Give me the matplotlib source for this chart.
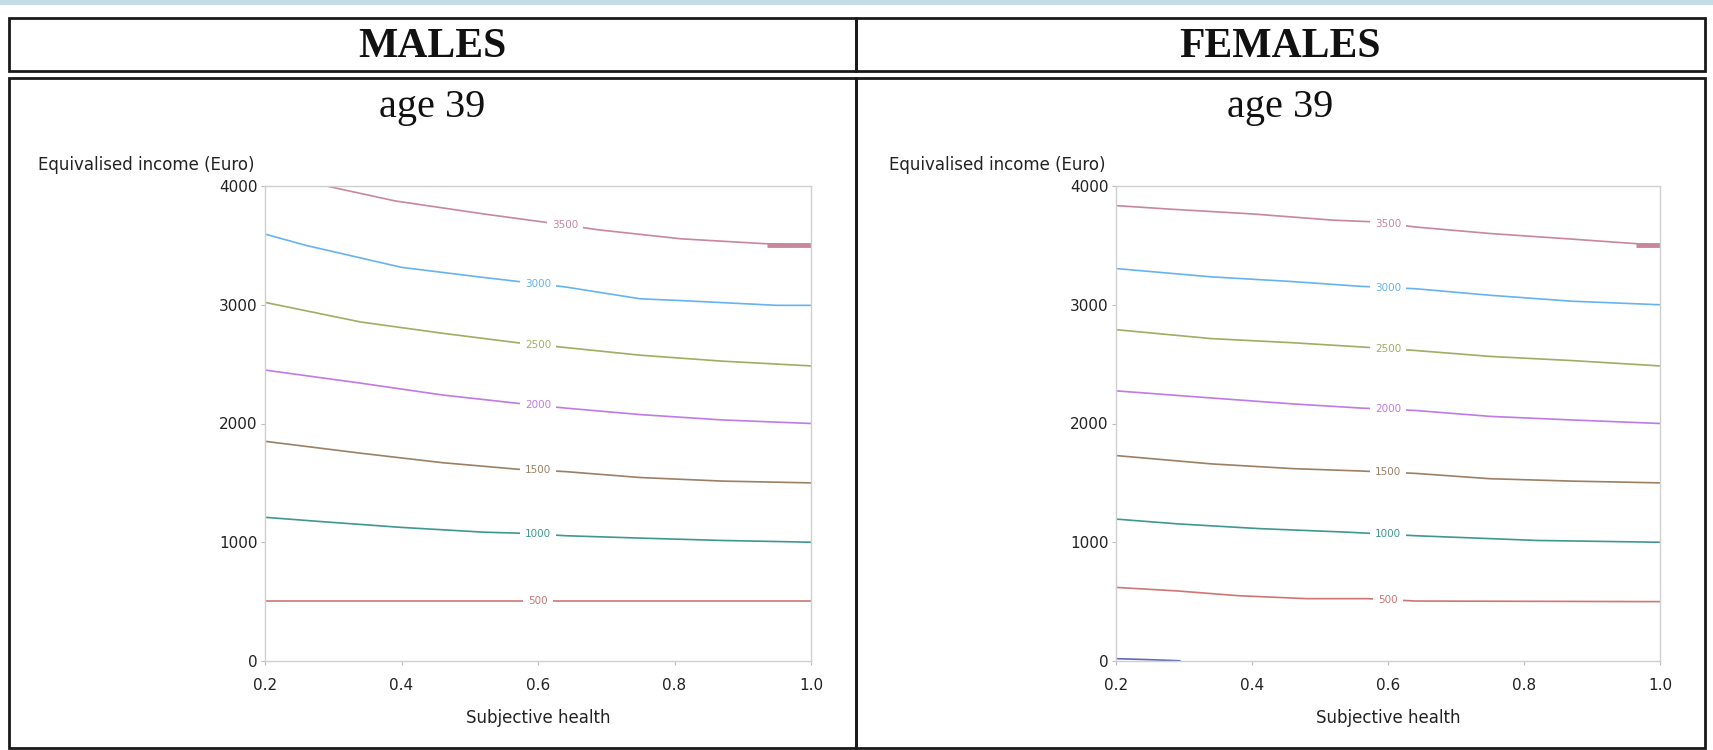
import numpy as np
import matplotlib
matplotlib.use("Agg")
import matplotlib.pyplot as plt
from matplotlib.patches import Rectangle

# figure size in pixels
W, H = 1713, 750

def fx(px):
    return px / W

def fy(py):
    return 1 - py / H

############### data
panels = ['MALES', 'FEMALES']
subtitle = 'age 39'
xticks = [0.2, 0.4, 0.6, 0.8, 1.0]
xticklabels = ['0.2', '0.4', '0.6', '0.8', '1.0']
yticks = [0, 1000, 2000, 3000, 4000]
levels = [3500, 3000, 2500, 2000, 1500, 1000, 500, 0]

# males: subjective health (x) and income (y) along each contour
m_x_3500 = [0.29, 0.39, 0.52, 0.61, 0.69, 0.81, 0.93, 1.0]
m_y_3500 = [4000, 3875, 3765, 3695, 3630, 3555, 3515, 3500]
m_x_3000 = [0.2, 0.26, 0.4, 0.52, 0.58, 0.64, 0.75, 0.81, 0.95, 1.0]
m_y_3000 = [3595, 3500, 3315, 3230, 3190, 3150, 3050, 3035, 2995, 2995]
m_x_2500 = [0.2, 0.34, 0.46, 0.57, 0.64, 0.75, 0.87, 1.0]
m_y_2500 = [3020, 2855, 2760, 2680, 2640, 2575, 2525, 2485]
m_x_2000 = [0.2, 0.34, 0.46, 0.57, 0.64, 0.75, 0.87, 1.0]
m_y_2000 = [2450, 2340, 2240, 2170, 2130, 2075, 2030, 2000]
m_x_1500 = [0.2, 0.34, 0.46, 0.57, 0.64, 0.75, 0.87, 1.0]
m_y_1500 = [1850, 1750, 1670, 1615, 1595, 1545, 1515, 1500]
m_x_1000 = [0.2, 0.28, 0.4, 0.52, 0.58, 0.64, 0.75, 0.87, 0.96, 1.0]
m_y_1000 = [1210, 1175, 1125, 1085, 1075, 1055, 1035, 1015, 1005, 1000]
m_x_500 = [0.2, 1.0]
m_y_500 = [505, 505]
m_thick_x = [0.935, 1.0]

# females
f_x_3500 = [0.2, 0.28, 0.4, 0.52, 0.58, 0.64, 0.75, 0.87, 1.0]
f_y_3500 = [3835, 3805, 3765, 3712, 3698, 3655, 3600, 3553, 3500]
f_x_3000 = [0.2, 0.34, 0.46, 0.56, 0.64, 0.75, 0.87, 1.0]
f_y_3000 = [3305, 3235, 3195, 3155, 3135, 3080, 3030, 3000]
f_x_2500 = [0.2, 0.34, 0.46, 0.56, 0.64, 0.75, 0.87, 1.0]
f_y_2500 = [2790, 2715, 2680, 2645, 2615, 2565, 2530, 2485]
f_x_2000 = [0.2, 0.34, 0.46, 0.56, 0.64, 0.75, 0.87, 1.0]
f_y_2000 = [2275, 2215, 2165, 2130, 2110, 2060, 2030, 2000]
f_x_1500 = [0.2, 0.34, 0.46, 0.56, 0.64, 0.75, 0.87, 1.0]
f_y_1500 = [1730, 1660, 1620, 1600, 1580, 1535, 1515, 1500]
f_x_1000 = [0.2, 0.29, 0.41, 0.54, 0.64, 0.73, 0.82, 1.0]
f_y_1000 = [1195, 1155, 1115, 1085, 1055, 1035, 1015, 1000]
f_x_500 = [0.2, 0.29, 0.38, 0.48, 0.57, 0.64, 1.0]
f_y_500 = [620, 590, 550, 525, 525, 505, 500]
f_x_0 = [0.2, 0.245, 0.295]
f_y_0 = [20, 12, 2]
f_thick_x = [0.965, 1.0]

cores = {3500: '#c8869f', 3000: '#66b3f2', 2500: '#a0ad62', 2000: '#c07ae6',
         1500: '#9c7f64', 1000: '#3f9890', 500: '#cf7575', 0: '#5b6bb5'}

males = {3500: (m_x_3500, m_y_3500), 3000: (m_x_3000, m_y_3000),
         2500: (m_x_2500, m_y_2500), 2000: (m_x_2000, m_y_2000),
         1500: (m_x_1500, m_y_1500), 1000: (m_x_1000, m_y_1000),
         500: (m_x_500, m_y_500)}
females = {3500: (f_x_3500, f_y_3500), 3000: (f_x_3000, f_y_3000),
           2500: (f_x_2500, f_y_2500), 2000: (f_x_2000, f_y_2000),
           1500: (f_x_1500, f_y_1500), 1000: (f_x_1000, f_y_1000),
           500: (f_x_500, f_y_500), 0: (f_x_0, f_y_0)}

# onde fica o rotulo de cada curva
m_lab_x = {3500: 0.64, 3000: 0.6, 2500: 0.6, 2000: 0.6, 1500: 0.6, 1000: 0.6, 500: 0.6}
f_lab_x = {3500: 0.6, 3000: 0.6, 2500: 0.6, 2000: 0.6, 1500: 0.6, 1000: 0.6, 500: 0.6}

fig = plt.figure(figsize=(W / 100, H / 100), dpi=100)
fig.patch.set_facecolor('white')

# faixa azul no topo
fig.add_artist(Rectangle((0, fy(5)), 1, 5 / H, transform=fig.transFigure,
                         facecolor='#c5dbe6', edgecolor='none'))

# moldura da tabela
caixas = [(9, 18, 847, 53), (856, 18, 849, 53), (9, 78, 847, 670), (856, 78, 849, 670)]
for (x0, y0, w, h) in caixas:
    fig.add_artist(Rectangle((fx(x0), fy(y0 + h)), w / W, h / H, transform=fig.transFigure,
                             facecolor='none', edgecolor='#1a1a1a', linewidth=2.0))

centros = [432, 1280]
eixos_px = [(265, 811), (1116, 1660)]
topo, base = 186, 661

def Plota_painel(ax, curvas, lab_x, thick_x):
    for lv in levels:
        if lv not in curvas:
            continue
        xs, ys = curvas[lv]
        ax.plot(xs, ys, color=cores[lv], lw=1.2, solid_capstyle='butt', zorder=2)
        if lv in lab_x:
            xl = lab_x[lv]
            yl = np.interp(xl, xs, ys)
            ax.text(xl, yl, str(lv), color=cores[lv], fontsize=7.5, ha='center', va='center',
                    zorder=3, bbox=dict(fc='white', ec='none', pad=3.5))
    ax.plot(thick_x, [3500, 3500], color=cores[3500], lw=3.5, solid_capstyle='butt', zorder=2)
    ax.set_xlim(0.2, 1.0)
    ax.set_ylim(0, 4000)
    ax.set_xticks(xticks)
    ax.set_xticklabels(xticklabels)
    ax.set_yticks(yticks)
    for s in ax.spines.values():
        s.set_color('#cfcfcf')
        s.set_linewidth(1.0)
    ax.tick_params(direction='out', length=3, width=0.8, color='#bbbbbb',
                   labelsize=11, labelcolor='#222222')
    ax.tick_params(axis='x', pad=9)
    ax.tick_params(axis='y', pad=2.5)

for i, nome in enumerate(panels):
    l, r = eixos_px[i]
    ax = fig.add_axes([fx(l), fy(base), (r - l) / W, (base - topo) / H])
    if i == 0:
        Plota_painel(ax, males, m_lab_x, m_thick_x)
    else:
        Plota_painel(ax, females, f_lab_x, f_thick_x)

    fig.text(fx(centros[i]), fy(57), nome, family='Liberation Serif', weight='bold',
             fontsize=30, ha='center', va='baseline', color='#111111')
    fig.text(fx(centros[i]), fy(117), subtitle, family='Liberation Serif',
             fontsize=29, ha='center', va='baseline', color='#111111')
    fig.text(fx(l - 227), fy(165), 'Equivalised income (Euro)', fontsize=12,
             ha='left', va='center', color='#222222')
    fig.text(fx((l + r) / 2), fy(718), 'Subjective health', fontsize=12,
             ha='center', va='center', color='#222222')

plt.savefig('out.png', dpi=100)
